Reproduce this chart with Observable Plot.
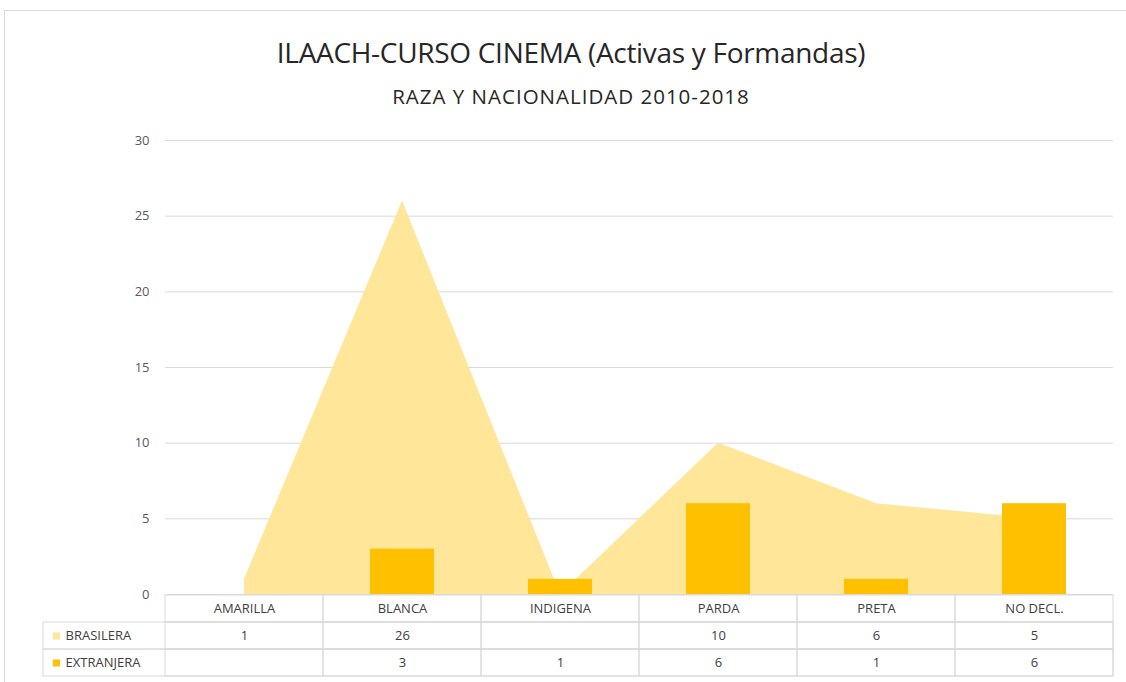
<!DOCTYPE html>
<html>
<head>
<meta charset="utf-8">
<script src="https://cdn.jsdelivr.net/npm/d3@7"></script>
<script src="https://cdn.jsdelivr.net/npm/@observablehq/plot@0.6"></script>
<style>
  body { margin: 0; background: #fff; font-family: "Open Sans", sans-serif; }
  #frame { position: absolute; left: 4px; top: 10px; width: 1140px; height: 690px; border: 1px solid #d9d9d9; box-sizing: border-box; }
  #title { position: absolute; left: 16px; top: 34px; width: 1110px; text-align: center; font-size: 28px; color: #262626; letter-spacing: -0.3px; line-height: 36px; }
  #subtitle { position: absolute; left: 16px; top: 83px; width: 1110px; text-align: center; font-size: 20.5px; color: #262626; letter-spacing: 1px; line-height: 26px; }
  #chart { position: absolute; left: 0; top: 124px; }
  #table { position: absolute; left: 0; top: 594px; }
  svg { overflow: visible; }
</style>
</head>
<body>
<div id="frame"></div>
<div id="title">ILAACH-CURSO CINEMA (Activas y Formandas)</div>
<div id="subtitle">RAZA Y NACIONALIDAD 2010-2018</div>
<div id="chart"></div>
<div id="table"></div>
<script>
const categories = ["AMARILLA", "BLANCA", "INDIGENA", "PARDA", "PRETA", "NO DECL."];
const brasilera = [1, 26, null, 10, 6, 5];
const extranjera = [null, 3, 1, 6, 1, 6];
const seriesNames = ["BRASILERA", "EXTRANJERA"];
const seriesColors = ["#FFE699", "#FFC000"];
const yTicks = [0, 5, 10, 15, 20, 25, 30];

const W = 1126, ML = 165, MR = 13;
const bras = categories.map((c, i) => ({cat: c, value: brasilera[i]}));
const ext = categories.map((c, i) => ({cat: c, value: extranjera[i]}));

const chart = Plot.plot({
  width: W, height: 471,
  marginLeft: ML, marginRight: MR, marginTop: 16, marginBottom: 1,
  style: {fontFamily: "Open Sans, sans-serif", fontSize: "13px", color: "#595959", overflow: "visible"},
  x: {domain: categories, padding: 0, axis: null},
  y: {domain: [0, 30], ticks: yTicks, tickSize: 0, tickPadding: 16, label: null},
  marks: [
    Plot.ruleY(yTicks, {stroke: "#d9d9d9", strokeWidth: 1, strokeOpacity: 1}),
    Plot.areaY(bras, {x: "cat", y: d => d.value ?? 0, fill: seriesColors[0], fillOpacity: 1, curve: "linear"}),
    Plot.barY(ext.filter(d => d.value != null), {x: "cat", y: "value", fill: seriesColors[1], insetLeft: 47, insetRight: 47})
  ]
});
document.getElementById("chart").appendChild(chart);

const rowKeys = ["HEADER", ...seriesNames];
const headerCells = categories.map(c => ({cat: c, row: "HEADER", text: c}));
const valueCells = [
  ...bras.map(d => ({cat: d.cat, row: "BRASILERA", text: d.value == null ? "" : String(d.value)})),
  ...ext.map(d => ({cat: d.cat, row: "EXTRANJERA", text: d.value == null ? "" : String(d.value)}))
];
const allCells = [...headerCells, ...valueCells];

const table = Plot.plot({
  width: W, height: 83,
  marginLeft: ML, marginRight: MR, marginTop: 0, marginBottom: 0,
  style: {fontFamily: "Open Sans, sans-serif", fontSize: "13px", color: "#404040", overflow: "visible", background: "transparent"},
  x: {domain: categories, padding: 0, axis: null},
  y: {domain: rowKeys, padding: 0, axis: null},
  marks: [
    Plot.cell(seriesNames, {y: d => d, insetLeft: -122, fill: "none", stroke: "#d9d9d9"}),
    Plot.cell(allCells, {x: "cat", y: "row", fill: "none", stroke: "#d9d9d9"}),
    Plot.text(allCells, {x: "cat", y: "row", text: "text", fill: "#404040", fontSize: 13}),
    Plot.dot(seriesNames, {y: d => d, frameAnchor: "left", dx: -109, symbol: "square", r: 4, fill: (d, i) => seriesColors[i], stroke: null}),
    Plot.text(seriesNames, {y: d => d, text: d => d, frameAnchor: "left", dx: -100, textAnchor: "start", fill: "#404040", fontSize: 13})
  ]
});
document.getElementById("table").appendChild(table);
</script>
</body>
</html>
